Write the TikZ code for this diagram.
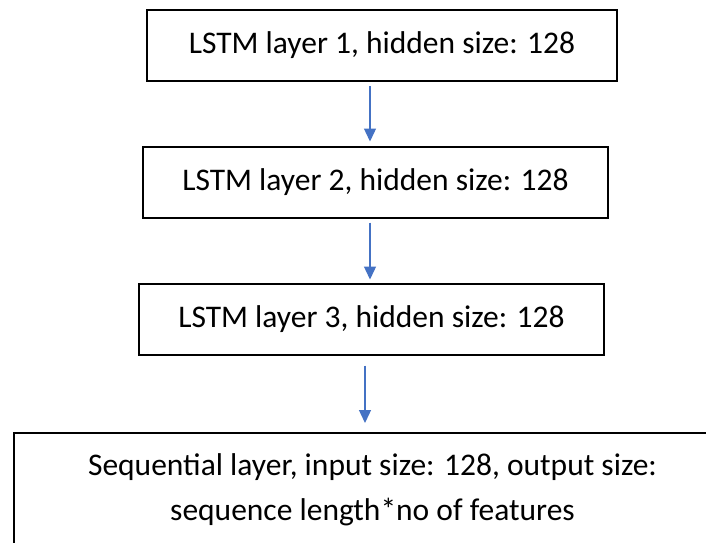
\documentclass[tikz,border=0pt]{standalone}
\usepackage{fontspec}
\setmainfont{Carlito}
\usepackage{tikz}
\usetikzlibrary{positioning, arrows.meta}
\definecolor{flowblue}{HTML}{4472C4}
\tikzstyle{block} = [rectangle, draw, line width=2pt, fill=white,
                 minimum height=71pt, inner sep=0pt,
                 font=\fontsize{31.5}{45}\selectfont]
\tikzset{
	flow/.style={draw=flowblue, line width=1.3pt,
		-{Triangle[width=12pt,length=13pt]}},
}

\begin{document}
\begin{tikzpicture}[x=1pt, y=-1pt]

\clip (0,0) rectangle (706,542);
\fill[white] (0,0) rectangle (706,542);

%lstm stack
\foreach \n/\x/\y/\w in {1/382/45.5/470, 2/375.5/182/465, 3/371.5/319/465}
	\node [block, minimum width=\w pt] at (\x,\y) (l\n) {LSTM layer \n, hidden size: 128};

\node [block, anchor=north west, minimum width=717pt, minimum height=113pt,
	align=center] at (13,432) (seq)
	{Sequential layer, input size: 128, output size:\\sequence length*no of features};

%arrows
\draw[flow, shorten <=4pt, shorten >=4pt] ([xshift=-12pt]l1.south) -- ([xshift=-12pt]l1.south |- l2.north);
\draw[flow, shorten <=4pt, shorten >=3pt] ([xshift=-5.5pt]l2.south) -- ([xshift=-5.5pt]l2.south |- l3.north);
\draw[flow, shorten <=10pt, shorten >=9pt] ([xshift=-6.5pt]l3.south) -- ([xshift=-6.5pt]l3.south |- seq.north);

\end{tikzpicture}
\end{document}
